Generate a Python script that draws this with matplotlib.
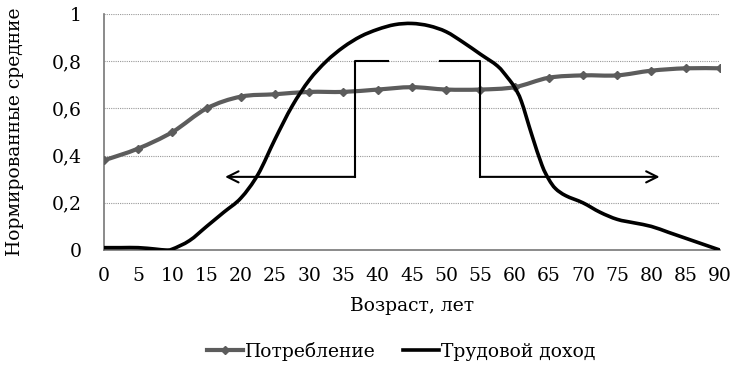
import numpy as np
from matplotlib import pyplot as plt
from matplotlib.path import Path
from matplotlib.patches import PathPatch
from matplotlib.lines import Line2D
from matplotlib.ticker import FuncFormatter

# age grid and series
ages = [0, 5, 10, 15, 20, 25, 30, 35, 40, 45, 50, 55, 60, 65, 70, 75, 80, 85, 90]
consumption = [0.38, 0.43, 0.50, 0.60, 0.65, 0.66, 0.67, 0.67, 0.68, 0.69,
               0.68, 0.68, 0.69, 0.73, 0.74, 0.74, 0.76, 0.77, 0.77]

income_ages = [0, 2.5, 5, 7.5, 9, 10, 12.5, 15, 17.5, 20, 22.5, 25, 27.5, 30, 32.5,
               35, 37.5, 40, 42.5, 45, 47.5, 50, 52.5, 55, 57.5, 59, 60, 61, 62.5,
               64, 65, 66, 67.5, 70, 72.5, 75, 77.5, 80, 82.5, 85, 87.5, 90]
income = [0.01, 0.01, 0.01, 0.004, 0.0, 0.004, 0.04, 0.10, 0.16, 0.22, 0.32, 0.47,
          0.61, 0.72, 0.80, 0.86, 0.905, 0.935, 0.955, 0.96, 0.95, 0.925, 0.88,
          0.83, 0.78, 0.73, 0.69, 0.63, 0.49, 0.36, 0.30, 0.26, 0.23, 0.20, 0.16,
          0.13, 0.115, 0.10, 0.075, 0.05, 0.025, 0.0]

# bracket/arrow annotation: working-age window (x) and levels (y)
left_edge, left_top_end = 36.7, 41.5
right_top_start, right_edge = 49.1, 55.0
bracket_top, arrow_level = 0.80, 0.31
arrow_left_tip, arrow_right_tip = 17.7, 81.2

GRAY = "#5c5c5c"


def smooth_path(x, y):
    # Excel-like smoothed line: Catmull-Rom segments as cubic Bezier curves
    pts = np.column_stack([x, y]).astype(float)
    verts = [pts[0]]
    codes = [Path.MOVETO]
    n = len(pts)
    for i in range(n - 1):
        p0 = pts[max(i - 1, 0)]
        p1 = pts[i]
        p2 = pts[i + 1]
        p3 = pts[min(i + 2, n - 1)]
        c1 = p1 + (p2 - p0) / 6.0
        c2 = p2 - (p3 - p1) / 6.0
        verts += [c1, c2, p2]
        codes += [Path.CURVE4] * 3
    return Path(verts, codes)


plt.rcParams["font.family"] = ["DejaVu Serif"]

fig = plt.figure(figsize=(7.36, 3.65), dpi=100)
ax = fig.add_axes([0.1413, 0.315, 0.8367, 0.6466])

ax.add_patch(PathPatch(smooth_path(ages, consumption), fill=False, edgecolor=GRAY,
                       lw=3, zorder=3, capstyle="round", joinstyle="round"))
ax.plot(ages, consumption, ls="none", marker="D", ms=4, color=GRAY, zorder=3)
ax.add_patch(PathPatch(smooth_path(income_ages, income), fill=False, edgecolor="black",
                       lw=2.6, zorder=4, capstyle="round", joinstyle="round"))

# left bracket with arrow
ax.plot([left_top_end, left_edge, left_edge], [bracket_top, bracket_top, arrow_level],
        color="black", lw=1.5, zorder=5)
ax.annotate("", xy=(arrow_left_tip, arrow_level), xytext=(left_edge, arrow_level),
            arrowprops=dict(arrowstyle="->", color="black", lw=1.5,
                            mutation_scale=20, shrinkA=0, shrinkB=0), zorder=5)
# right bracket with arrow
ax.plot([right_top_start, right_edge, right_edge], [bracket_top, bracket_top, arrow_level],
        color="black", lw=1.5, zorder=5)
ax.annotate("", xy=(arrow_right_tip, arrow_level), xytext=(right_edge, arrow_level),
            arrowprops=dict(arrowstyle="->", color="black", lw=1.5,
                            mutation_scale=20, shrinkA=0, shrinkB=0), zorder=5)

ax.set_xlim(0, 90)
ax.set_ylim(0, 1)
ax.set_xticks(ages)
ax.set_yticks([0, 0.2, 0.4, 0.6, 0.8, 1.0])
ax.yaxis.set_major_formatter(FuncFormatter(lambda v, p: ("%g" % round(v, 1)).replace(".", ",")))
ax.tick_params(length=0, labelsize=13.5)
ax.tick_params(axis="x", pad=12)
ax.tick_params(axis="y", pad=16)

for y in [0.2, 0.4, 0.6, 0.8, 1.0]:
    ax.axhline(y, color="#999999", lw=0.8, ls=(0, (1, 1)), zorder=1)
for s in ["top", "right"]:
    ax.spines[s].set_visible(False)
for s in ["left", "bottom"]:
    ax.spines[s].set_color("#777777")
    ax.spines[s].set_linewidth(1.2)

ax.set_xlabel("Возраст, лет", fontsize=13.5, labelpad=9)
ax.set_ylabel("Нормированные средние", fontsize=13.5, labelpad=20)

handles = [Line2D([], [], color=GRAY, lw=3, marker="D", ms=4),
           Line2D([], [], color="black", lw=2.6)]
fig.legend(handles, ["Потребление", "Трудовой доход"], loc="lower center",
           bbox_to_anchor=(0.545, -0.035), ncol=2, frameon=False,
           fontsize=13.5, handlelength=1.9, handletextpad=0.1, columnspacing=1.5)

fig.savefig("out.png", dpi=100)
